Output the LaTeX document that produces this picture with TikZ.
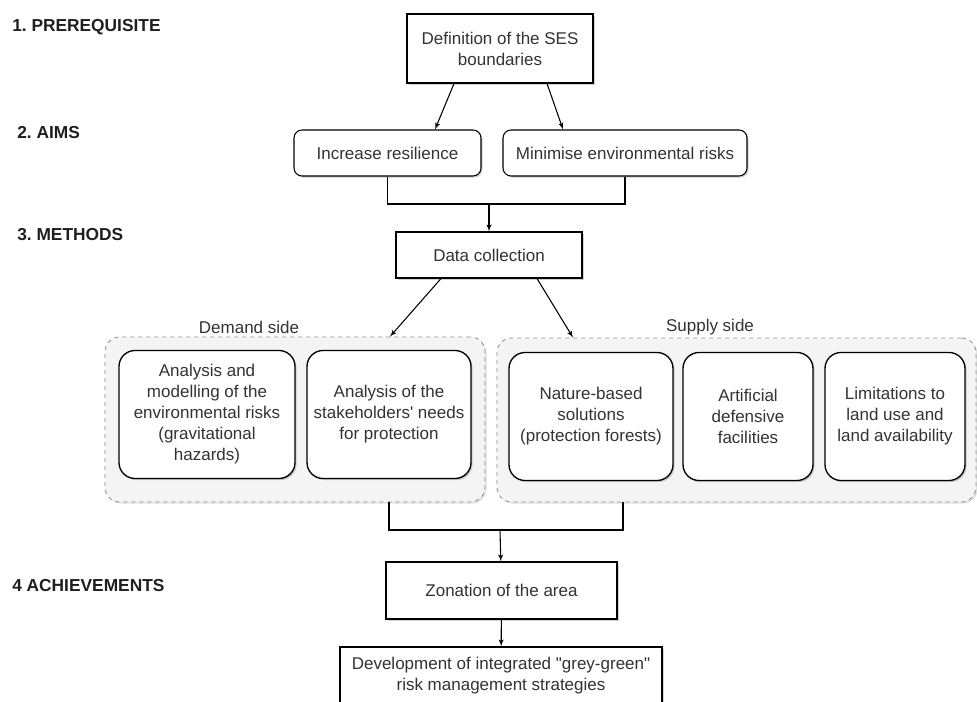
\documentclass[tikz,border=0pt]{standalone}
\usepackage{fontspec}
\setmainfont{Liberation Sans}[Ligatures=TeXOff]
\usetikzlibrary{shapes,arrows,shadows,calc}
\definecolor{txtgrey}{HTML}{333333}
\definecolor{groupfill}{HTML}{F4F4F4}
\definecolor{groupline}{HTML}{8A8A8A}
\newcommand{\diagfont}{\fontsize{12.75}{15.75}\selectfont}
\newcommand{\stagefont}{\fontsize{13}{15}\selectfont\bfseries}
\tikzstyle{block} = [rectangle, draw, fill=white, align=center, inner sep=1pt,
    text=txtgrey, font=\diagfont, line width=0.8pt,
    drop shadow={shadow xshift=1.2pt, shadow yshift=-1.2pt, fill=black, opacity=0.18}]
\tikzstyle{aim} = [block, rounded corners=6pt, minimum height=34.5pt]
\tikzstyle{method} = [block, rounded corners=12pt, line width=1pt, minimum height=96pt]
\tikzstyle{group} = [rectangle, draw=groupline, dashed, fill=groupfill,
    rounded corners=11pt, line width=0.6pt,
    drop shadow={shadow xshift=1.2pt, shadow yshift=-1.2pt, fill=black, opacity=0.12}]
\tikzstyle{side} = [text=txtgrey, font=\diagfont]
\tikzstyle{stage} = [anchor=west, inner sep=0pt, font=\stagefont, text=black!88]
\tikzstyle{line} = [draw, line width=0.8pt, -latex']
\tikzstyle{joint} = [draw, line width=0.8pt]

\begin{document}
\begin{tikzpicture}[x=0.75pt, y=-0.75pt]
    \clip (0,0) rectangle (977,702);
    % Stage headings
    \node [stage] (pre) at (12,27) {1.\ PREREQUISITE};
    \node [stage] (aims) at (17,133) {2.\ AIMS};
    \node [stage] (meth) at (17,235) {3.\ METHODS};
    \node [stage] (ach) at (12,586) {4 ACHIEVEMENTS};
    % Place nodes
    \node [block, minimum width=139.5pt, minimum height=51.75pt] (defn) at (500,48.5)
        {Definition of the SES\\boundaries};
    \node [aim, minimum width=140.25pt] (incr) at (387.5,153) {Increase resilience};
    \node [aim, minimum width=183pt] (minim) at (625,153) {Minimise environmental risks};
    \node [block, minimum width=139.5pt, minimum height=34.5pt] (datacoll) at (489,255)
        {Data collection};
    \node [group, minimum width=285pt, minimum height=123.75pt] (demand) at (295,419.5) {};
    \node [group, minimum width=359.25pt, minimum height=123pt] (supply) at (736.5,420) {};
    \node [side] (demandlbl) at (249,327.5) {Demand side};
    \node [side] (supplylbl) at (710,327.5) {Supply side};
    \node [method, minimum width=132pt] (risks) at (207,414.5)
        {Analysis and\\modelling of the\\environmental risks\\(gravitational\\hazards)};
    \node [method, minimum width=123pt] (needs) at (389,414.5)
        {Analysis of the\\stakeholders' needs\\for protection};
    \node [method, minimum width=123pt] (nbs) at (591,416.5)
        {Nature-based\\solutions\\(protection forests)};
    \node [method, minimum width=97.5pt] (defence) at (748,416.5)
        {Artificial\\defensive\\facilities};
    \node [method, minimum width=105pt] (landuse) at (895,416.5)
        {Limitations to\\land use and\\land availability};
    \node [block, minimum width=173.25pt, minimum height=42.75pt] (zone) at (501.5,590.5)
        {Zonation of the area};
    \node [block, minimum width=241.5pt, minimum height=43.5pt] (devel) at (501,676)
        {Development of integrated "grey-green"\\risk management strategies};
    % Junction points
    \coordinate (aimsjoin) at (489,204);
    \coordinate (achjoin) at (500,530);
    \coordinate (demandout) at ($(demand.south)+(94,0)$);
    \coordinate (supplyout) at ($(supply.south)+(-113.5,0)$);
    % Draw edges
    \path [line] ($(defn.south)+(-46,0)$) -- ($(incr.north)+(47.5,0)$);
    \path [line] ($(defn.south)+(47,0)$) -- ($(minim.north)+(-62,0)$);
    \path [joint] (incr.south) |- (aimsjoin) -| (minim.south);
    \path [line] (aimsjoin) -- (datacoll);
    \path [line] ($(datacoll.south)+(-48,0)$) -- ($(demand.north)+(95,0)$);
    \path [line] ($(datacoll.south)+(48,0)$) -- ($(supply.north)+(-163.5,0)$);
    \path [joint] (demandout) |- (achjoin) -| (supplyout);
    \path [line] (achjoin) -- (zone);
    \path [line] (zone) -- (devel);
\end{tikzpicture}
\end{document}
